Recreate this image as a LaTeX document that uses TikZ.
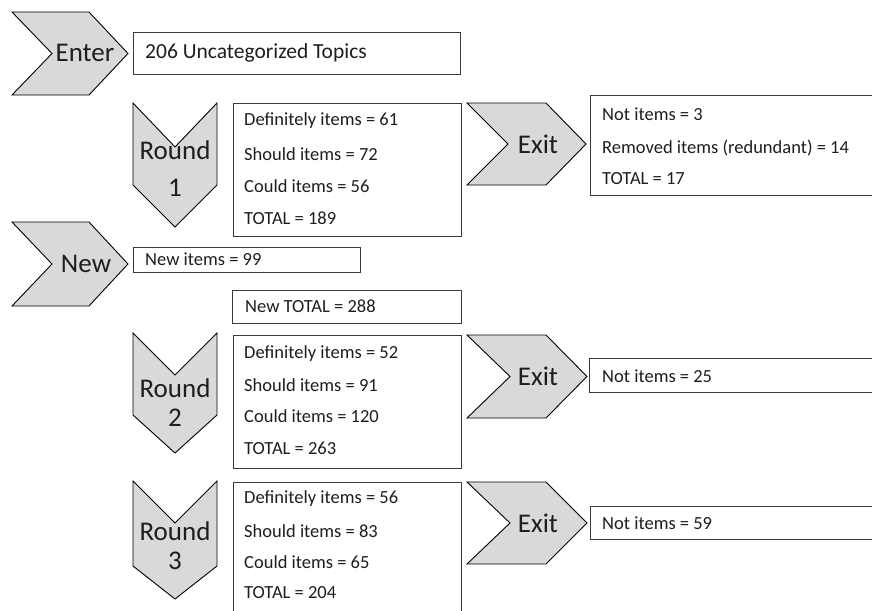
\documentclass[tikz,border=0pt]{standalone}
\usepackage{fontspec}
\setmainfont{Carlito}
\begin{document}
\begin{tikzpicture}[x=1pt,y=-1pt,
  chev/.style={fill=chevgray,draw=black,line width=0.9pt,line join=miter},
  box/.style={draw=boxline,line width=1.3pt,fill=white,inner sep=0pt,anchor=north west},
  small/.style={anchor=west,inner sep=0pt,font=\fontsize{18.5}{22}\selectfont,text=txt},
  big/.style={inner sep=0pt,font=\fontsize{27}{32}\selectfont,text=txt,align=center}]
\definecolor{chevgray}{HTML}{D9D9D9}
\definecolor{boxline}{HTML}{3A3A3A}
\definecolor{txt}{HTML}{1E1E1E}
\useasboundingbox (0,0) rectangle (872,610);
\clip (0,0) rectangle (872,610);

% chevrons pointing right: left, notch, body right, tip, top, bottom
\newcommand{\rchev}[6]{%
  \draw[chev] (#1,#5) -- (#3,#5) -- (#4,{(#5+#6)/2}) -- (#3,#6) -- (#1,#6)
    -- (#2,{(#5+#6)/2}) -- cycle;}
% chevrons pointing down: left, right, top, notch, side bottom, tip
\newcommand{\dchev}[6]{%
  \draw[chev] (#1,#3) -- ({(#1+#2)/2},#4) -- (#2,#3) -- (#2,#5)
    -- ({(#1+#2)/2},#6) -- (#1,#5) -- cycle;}

\rchev{12}{52}{89}{128}{12}{95}
\node[big] (enter) at (85,53) {Enter};
\rchev{12}{52}{89}{128}{222}{306}
\node[big] (new) at (86,264) {New};
\rchev{467}{508}{546}{586}{103}{185}
\node[big] (exit1) at (538,144) {Exit};
\rchev{467}{510}{546}{587}{335}{418}
\node[big] (exit2) at (538,376) {Exit};
\rchev{467}{510}{546}{587}{482}{564}
\node[big] (exit3) at (538,523) {Exit};

\dchev{133}{217}{103}{147}{185}{227}
\node[big] (round1) at (175,150) {Round};
\node[big] (num1) at (175,188) {1};
\dchev{133}{217}{333}{375}{415}{453}
\node[big] (round2) at (175,388) {Round};
\node[big] (num2) at (175,418) {2};
\dchev{133}{217}{481}{523}{566}{599}
\node[big] (round3) at (175,531) {Round};
\node[big] (num3) at (175,561) {3};

% boxes
\node[box,minimum width=327pt,minimum height=42pt] (topics) at (133,32) {};
\node[small,font=\fontsize{21.5}{26}\selectfont] (topicstxt) at (145,53) {206 Uncategorized Topics};

\node[box,minimum width=228pt,minimum height=133pt] (r1box) at (233,103) {};
\node[small] (r1a) at (244,121) {Definitely items = 61};
\node[small] (r1b) at (244,154) {Should items = 72};
\node[small] (r1c) at (244,186) {Could items = 56};
\node[small] (r1d) at (244,218) {TOTAL = 189};

\node[box,minimum width=300pt,minimum height=100pt] (x1box) at (590,95) {};
\node[small] (x1a) at (602,114) {Not items = 3};
\node[small] (x1b) at (602,148) {Removed items (redundant) = 14};
\node[small] (x1c) at (602,179) {TOTAL = 17};

\node[box,minimum width=227pt,minimum height=25pt] (newbox) at (133,247) {};
\node[small] (newtxt) at (145,259.5) {New items = 99};
\node[box,minimum width=229pt,minimum height=33pt] (ntbox) at (232,290) {};
\node[small] (nttxt) at (245,306.5) {New TOTAL = 288};

\node[box,minimum width=228pt,minimum height=133pt] (r2box) at (233,335) {};
\node[small] (r2a) at (244,354) {Definitely items = 52};
\node[small] (r2b) at (244,385) {Should items = 91};
\node[small] (r2c) at (244,416) {Could items = 120};
\node[small] (r2d) at (244,448) {TOTAL = 263};

\node[box,minimum width=300pt,minimum height=34pt] (x2box) at (589,358) {};
\node[small] (x2a) at (602,376) {Not items = 25};

\node[box,minimum width=228pt,minimum height=140pt] (r3box) at (233,482) {};
\node[small] (r3a) at (244,499) {Definitely items = 56};
\node[small] (r3b) at (244,531) {Should items = 83};
\node[small] (r3c) at (244,562) {Could items = 65};
\node[small] (r3d) at (244,593) {TOTAL = 204};

\node[box,minimum width=300pt,minimum height=33pt] (x3box) at (590,506) {};
\node[small] (x3a) at (602,523) {Not items = 59};
\end{tikzpicture}
\end{document}
